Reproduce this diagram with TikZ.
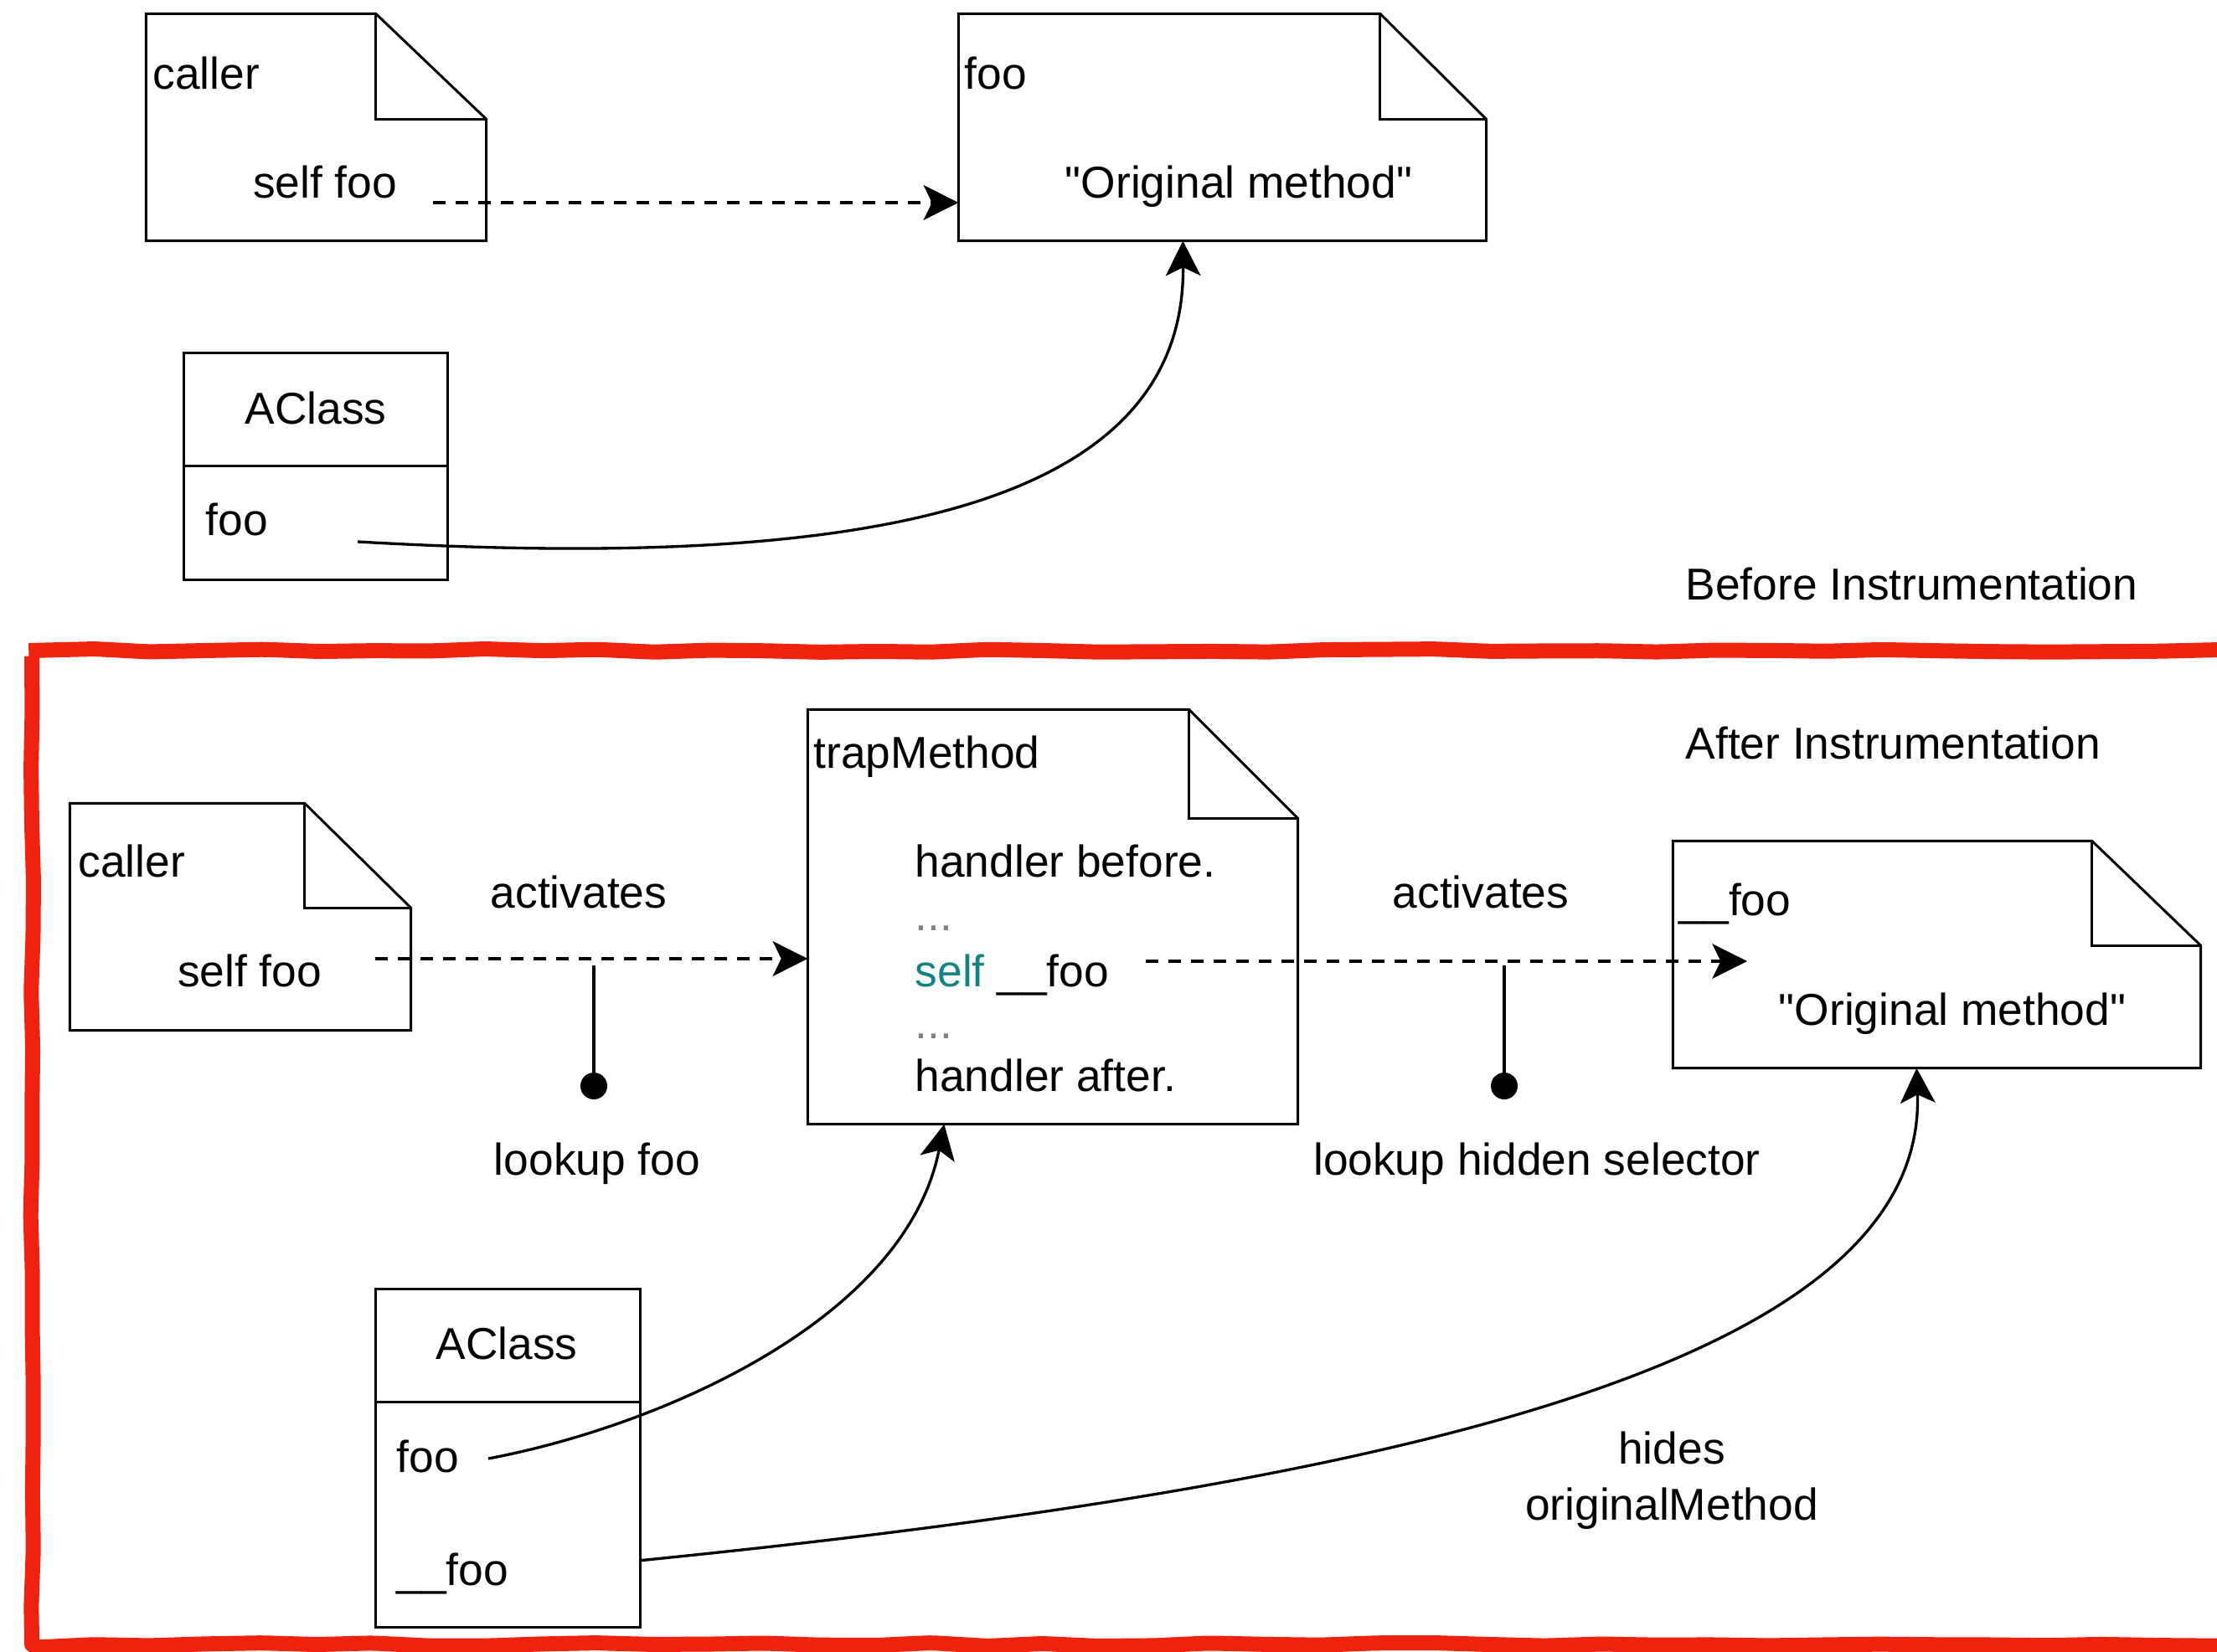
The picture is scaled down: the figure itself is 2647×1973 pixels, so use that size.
\documentclass[tikz,border=0pt]{standalone}
\usepackage{fontspec}
\setmainfont{Liberation Sans}[Ligatures=TeXOff]
\usetikzlibrary{arrows.meta,fit,calc,decorations.pathmorphing}
\definecolor{framered}{RGB}{238,34,14}
\definecolor{selfteal}{RGB}{18,130,130}
\definecolor{dotgray}{RGB}{128,128,128}
\newcommand\dogear[3]{%
  \draw[outline] (#1.north west) -- ($(#1.north east)+(-#2,0)$) -- ($(#1.north east)+(0,#3)$) -- (#1.south east) -- (#1.south west) -- cycle;
  \draw[outline] ($(#1.north east)+(-#2,0)$) |- ($(#1.north east)+(0,#3)$);}
\begin{document}
\pgfmathsetseed{7}
\begin{tikzpicture}[x=0.3pt,y=-0.3pt,
  every node/.style={font=\fontsize{16}{19}\selectfont, inner sep=0pt},
  region/.style={inner sep=0pt, draw=none},
  outline/.style={line width=0.9pt, line join=miter},
  txt/.style={anchor=base west},
  ctxt/.style={anchor=base},
  dashedarrow/.style={line width=1pt, dash pattern=on 4.5pt off 3.6pt, -{Stealth[length=12.5pt,width=12.5pt,inset=3pt]}},
  curvearrow/.style={line width=1pt, -{Stealth[length=12.5pt,width=12.5pt,inset=3pt]}},
  stub/.style={line width=1pt},
  knob/.style={circle, fill=black, minimum size=9.6pt, inner sep=0pt},
  redframe/.style={draw=framered, line width=5.4pt, line join=round, decorate,
    decoration={random steps, segment length=20pt, amplitude=0.6pt}, rounded corners=2pt}
]
\useasboundingbox (0,0) rectangle (2647,1973);

% ---------- Before instrumentation ----------
\node[region, fit={(175,17) (580,287)}] (docCallerA) {};
\dogear{docCallerA}{132}{126}
\node[txt] (callerA) at (182,107) {caller};
\node[ctxt] (selfA) at (388,237) {self foo};

\node[region, fit={(1145,17) (1774,287)}] (docFooA) {};
\dogear{docFooA}{127}{126}
\node[txt] (fooA) at (1151,107) {foo};
\node[ctxt] (origA) at (1479,237) {"Original method"};

\node[region, fit={(220,422) (534,692)}] (classA) {};
\draw[outline] (classA.north west) rectangle (classA.south east);
\draw[outline] ($(classA.north west)+(0,135)$) -- ($(classA.north east)+(0,135)$);
\node[ctxt] (aclassA) at (377,507) {AClass};
\node[txt] (afooA) at (245,640) {foo};

\coordinate (dA) at (517,242);
\draw[dashedarrow] (dA) -- (docFooA.west |- dA);
\coordinate (cA) at (427,647);
\draw[curvearrow] (cA) .. controls (1000,680) and (1415,620) .. ($(docFooA.south west)+(268,0)$);

\node[txt] (before) at (2012,717) {Before Instrumentation};

% ---------- After instrumentation ----------
\draw[redframe] (38,777) rectangle (2720,1964);

\node[txt] (after) at (2012,907) {After Instrumentation};

\node[region, fit={(84,960) (490,1230)}] (docCallerB) {};
\dogear{docCallerB}{127}{125}
\node[txt] (callerB) at (93,1048) {caller};
\node[ctxt] (selfB) at (298,1178) {self foo};

\node[region, fit={(965,848) (1549,1342)}] (trap) {};
\dogear{trap}{130}{130}
\node[txt] (trapT) at (971,918) {trapMethod};
\node[txt] (hb) at (1092,1048) {handler before.};
\node[txt, text=dotgray] (dots1) at (1092,1112) {...};
\node[txt] (selfLine) at (1092,1178) {\textcolor{selfteal}{self} \_\_foo};
\node[txt, text=dotgray] (dots2) at (1092,1240) {...};
\node[txt] (ha) at (1092,1303) {handler after.};

\node[region, fit={(1998,1005) (2627,1275)}] (docFooB) {};
\dogear{docFooB}{130}{125}
\node[txt] (fooB) at (2004,1093) {\_\_foo};
\node[ctxt] (origB) at (2331,1225) {"Original method"};

\coordinate (dB) at (448,1145);
\draw[dashedarrow] (dB) -- (trap.west |- dB);
\node[ctxt] (actB) at (691,1085) {activates};
\coordinate (sB) at (709,1153);
\node[knob] (kB) at (709,1297) {};
\draw[stub] (sB) -- (kB.center);
\node[ctxt] (lkB) at (713,1403) {lookup foo};

\coordinate (dC) at (1368,1148);
\coordinate (dCend) at (2086,1148);
\draw[dashedarrow] (dC) -- (dCend);
\node[ctxt] (actC) at (1768,1085) {activates};
\coordinate (sC) at (1796,1153);
\node[knob] (kC) at (1796,1297) {};
\draw[stub] (sC) -- (kC.center);
\node[ctxt] (lkC) at (1835,1403) {lookup hidden selector};

\node[region, fit={(449,1540) (764,1943)}] (classB) {};
\draw[outline] (classB.north west) rectangle (classB.south east);
\draw[outline] ($(classB.north west)+(0,135)$) -- ($(classB.north east)+(0,135)$);
\node[ctxt] (aclassB) at (605,1623) {AClass};
\node[txt] (afooB) at (473,1758) {foo};
\node[txt] (ahidB) at (473,1893) {\_\_foo};

\coordinate (cB) at (583,1742);
\draw[curvearrow] (cB) .. controls (780,1705) and (1080,1580) .. ($(trap.south west)+(163,0)$);
\draw[curvearrow] ($(classB.south east)+(0,-80)$) .. controls (1700,1770) and (2300,1620) .. ($(docFooB.south west)+(291,0)$);

\node[ctxt] (hides) at (1996,1748) {hides};
\node[ctxt] (origM) at (1996,1815) {originalMethod};
\end{tikzpicture}
\end{document}
